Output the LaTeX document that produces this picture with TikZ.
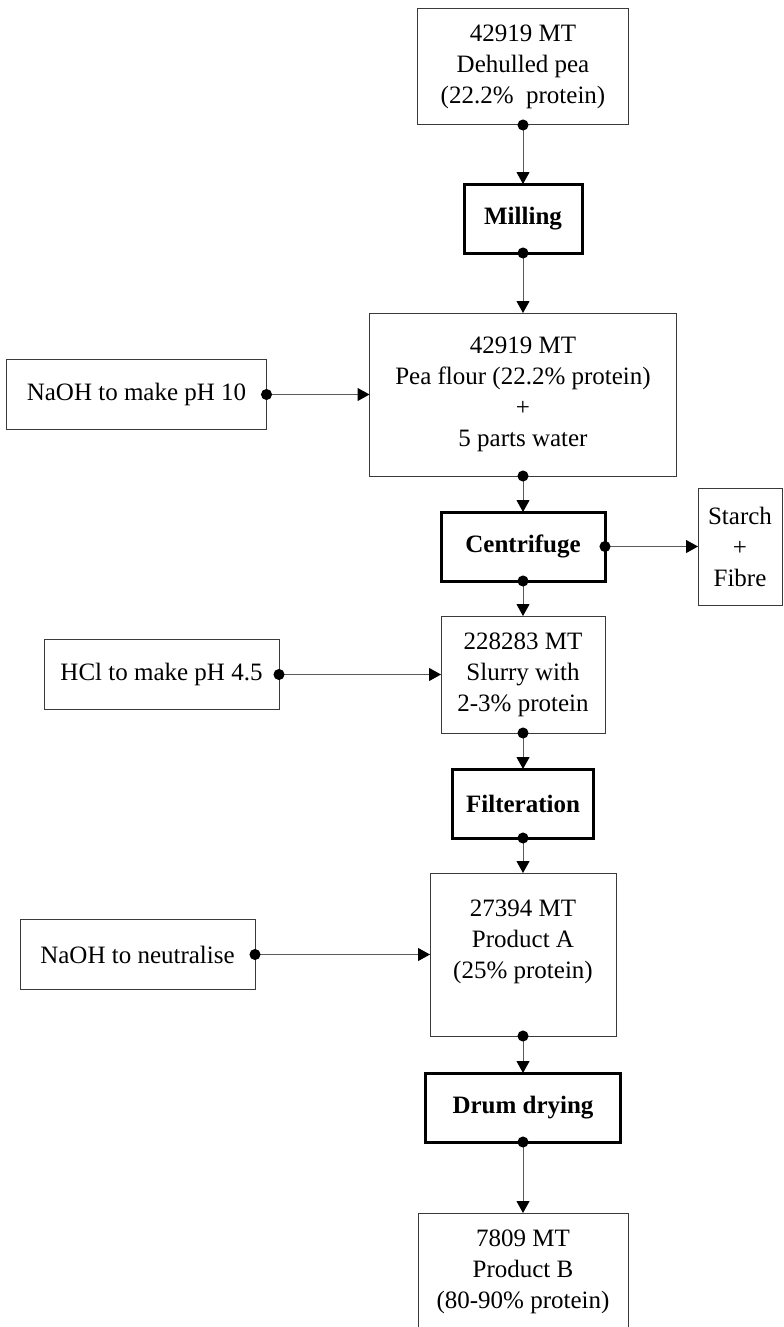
\documentclass[tikz,border=0pt]{standalone}
\usepackage{fontspec}
\setmainfont{Liberation Serif}
\usepackage{tikz}
\usetikzlibrary{positioning,arrows.meta}
\definecolor{edgegrey}{HTML}{3A3A3A}
\definecolor{linegrey}{HTML}{5A5A5A}

\begin{document}
\begin{tikzpicture}[font=\fontsize{12.5pt}{15.5pt}\selectfont,
  massbox/.style={draw=edgegrey, line width=0.5pt, align=center, inner sep=2pt, outer sep=0pt},
  procbox/.style={draw=black, line width=1.5pt, align=center, outer sep=0pt, minimum height=34.5pt, font=\fontsize{12.5pt}{15.5pt}\selectfont\bfseries},
  flow/.style={draw=linegrey, line width=0.5pt, {Circle[black,length=5.5pt]}-{Triangle[black,length=6pt,width=6.5pt]}, shorten <=-2.75pt}]
  \useasboundingbox (0,0) rectangle (391.5pt,-663.5pt);

  % main line
  \node[massbox, minimum width=105.5pt, minimum height=58pt]
       (pea) at (261.5pt,-33.5pt) {42919 MT\\ Dehulled pea\\ (22.2\%\ \ protein)};
  \node[procbox, minimum width=59pt, below=29.5pt of pea] (mill) {Milling};
  \node[massbox, minimum width=153.5pt, minimum height=81.5pt, below=30pt of mill]
       (flour) {42919 MT\\ Pea flour (22.2\% protein)\\ +\\ 5 parts water};
  \node[procbox, minimum width=82pt, below=18pt of flour] (cent) {Centrifuge};
  \node[massbox, minimum width=82pt, minimum height=58.5pt, below=17.5pt of cent]
       (slurry) {228283 MT\\ Slurry with\\ 2-3\% protein};
  \node[procbox, minimum width=70.5pt, below=18pt of slurry] (filter) {Filteration};
  \node[massbox, minimum width=93pt, minimum height=81.5pt, below=17.5pt of filter]
       (prodA) {27394 MT\\ Product A\\ (25\% protein)\\ \mbox{}};
  \node[procbox, minimum width=97.5pt, below=18.5pt of prodA] (drum) {Drum drying};
  \node[massbox, minimum width=105pt, minimum height=58.5pt, below=35.5pt of drum]
       (prodB) {7809 MT\\ Product B\\ (80-90\% protein)};

  % side streams
  \node[massbox, minimum width=130pt, minimum height=35pt, left=51.5pt of flour] (naohA) {NaOH to make pH 10};
  \node[massbox, minimum width=42pt, minimum height=58.5pt, right=46.5pt of cent] (starch) {Starch\\ +\\ Fibre};
  \node[massbox, minimum width=117.5pt, minimum height=35pt, left=81pt of slurry] (hcl) {HCl to make pH 4.5};
  \node[massbox, minimum width=117.5pt, minimum height=35pt, left=87.5pt of prodA] (naohB) {NaOH to neutralise};

  \draw[flow] (pea.south) -- (mill.north);
  \draw[flow] (mill.south) -- (flour.north);
  \draw[flow] (flour.south) -- (cent.north);
  \draw[flow] (cent.south) -- (slurry.north);
  \draw[flow] (slurry.south) -- (filter.north);
  \draw[flow] (filter.south) -- (prodA.north);
  \draw[flow] (prodA.south) -- (drum.north);
  \draw[flow] (drum.south) -- (prodB.north);

  \draw[flow] (naohA.east) -- (naohA.east -| flour.west);
  \draw[flow] (cent.east) -- (starch.west);
  \draw[flow] (hcl.east) -- (hcl.east -| slurry.west);
  \draw[flow] (naohB.east) -- (naohB.east -| prodA.west);
\end{tikzpicture}
\end{document}
